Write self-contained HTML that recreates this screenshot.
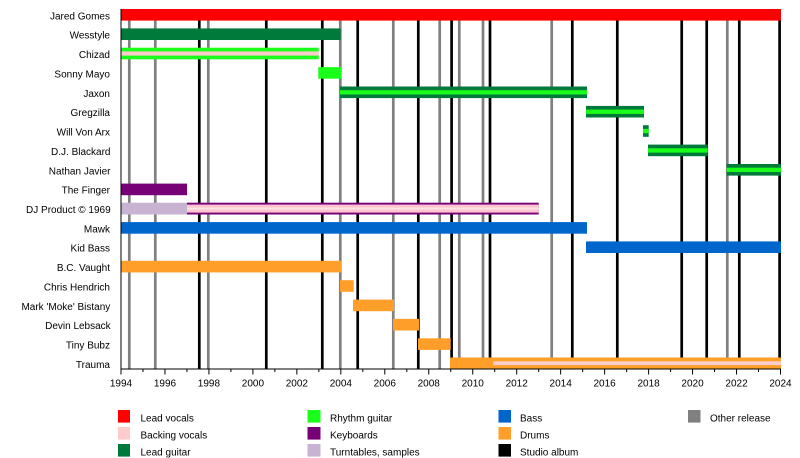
<!DOCTYPE html>
<html>
<head>
<meta charset="utf-8">
<style>
  html,body{margin:0;padding:0;background:#fff;}
  svg{display:block;}
  text{font-family:"Liberation Sans",Arial,sans-serif;font-size:10px;fill:#000;}
</style>
</head>
<body>
<svg width="800" height="458" viewBox="0 0 800 458" xmlns="http://www.w3.org/2000/svg">
  <rect x="0" y="0" width="800" height="458" fill="#fff"/>

  <!-- vertical release lines -->
  <g stroke-width="2.7">
    <g stroke="#808080">
      <line x1="129.3" y1="9" x2="129.3" y2="369"/>
      <line x1="155.3" y1="9" x2="155.3" y2="369"/>
      <line x1="208.3" y1="9" x2="208.3" y2="369"/>
      <line x1="340.3" y1="9" x2="340.3" y2="369"/>
      <line x1="393.3" y1="9" x2="393.3" y2="369"/>
      <line x1="439.7" y1="9" x2="439.7" y2="369"/>
      <line x1="459.3" y1="9" x2="459.3" y2="369"/>
      <line x1="483" y1="9" x2="483" y2="369"/>
      <line x1="551.7" y1="9" x2="551.7" y2="369"/>
      <line x1="727.3" y1="9" x2="727.3" y2="369"/>
    </g>
    <g stroke="#000">
      <line x1="199.3" y1="9" x2="199.3" y2="369"/>
      <line x1="266.3" y1="9" x2="266.3" y2="369"/>
      <line x1="322.3" y1="9" x2="322.3" y2="369"/>
      <line x1="357.7" y1="9" x2="357.7" y2="369"/>
      <line x1="418.3" y1="9" x2="418.3" y2="369"/>
      <line x1="451.6" y1="9" x2="451.6" y2="369"/>
      <line x1="490" y1="9" x2="490" y2="369"/>
      <line x1="572.3" y1="9" x2="572.3" y2="369"/>
      <line x1="617.3" y1="9" x2="617.3" y2="369"/>
      <line x1="681.7" y1="9" x2="681.7" y2="369"/>
      <line x1="706.7" y1="9" x2="706.7" y2="369"/>
      <line x1="739.3" y1="9" x2="739.3" y2="369"/>
      <line x1="779.6" y1="9" x2="779.6" y2="369"/>
    </g>
  </g>

  <!-- bars -->
  <!-- 0 Jared Gomes -->
  <rect x="121" y="9" width="660" height="11.6" fill="#ff0000"/>
  <!-- 1 Wesstyle -->
  <rect x="121" y="28.4" width="219.7" height="11.6" fill="#007a3a"/>
  <!-- 2 Chizad -->
  <rect x="121" y="47.7" width="197.7" height="11.6" fill="#1aff1a"/>
  <rect x="121" y="51.4" width="197.7" height="4.2" fill="#ffcccc"/>
  <!-- 3 Sonny Mayo -->
  <rect x="318.3" y="67.1" width="23" height="11.6" fill="#1aff1a"/>
  <!-- 4 Jaxon -->
  <rect x="340" y="86.5" width="247" height="11.6" fill="#007a3a"/>
  <rect x="340" y="90.2" width="247" height="4.3" fill="#1aff1a"/>
  <!-- 5 Gregzilla -->
  <rect x="586" y="105.9" width="58" height="11.6" fill="#007a3a"/>
  <rect x="586" y="109.6" width="58" height="4.3" fill="#1aff1a"/>
  <!-- 6 Will Von Arx -->
  <rect x="643" y="125.2" width="5.7" height="11.6" fill="#007a3a"/>
  <rect x="643" y="128.9" width="5.7" height="4.3" fill="#1aff1a"/>
  <!-- 7 D.J. Blackard -->
  <rect x="648" y="144.6" width="59.7" height="11.6" fill="#007a3a"/>
  <rect x="648" y="148.3" width="59.7" height="4.3" fill="#1aff1a"/>
  <!-- 8 Nathan Javier -->
  <rect x="726.7" y="164" width="54.3" height="11.6" fill="#007a3a"/>
  <rect x="726.7" y="167.7" width="54.3" height="4.3" fill="#1aff1a"/>
  <!-- 9 The Finger -->
  <rect x="121" y="183.6" width="66" height="11.6" fill="#770077"/>
  <!-- 10 DJ Product -->
  <rect x="121" y="202.7" width="66" height="11.8" fill="#c9b3d3"/>
  <rect x="187" y="202.7" width="351.7" height="11.8" fill="#770077"/>
  <rect x="187" y="204.6" width="351.7" height="8" fill="#ffc6d0"/>
  <rect x="187" y="207.6" width="351.7" height="2" fill="#ffe2e6"/>
  <!-- 11 Mawk -->
  <rect x="121" y="222.1" width="466" height="11.6" fill="#0066cc"/>
  <!-- 12 Kid Bass -->
  <rect x="586" y="241.4" width="195" height="11.6" fill="#0066cc"/>
  <!-- 13 B.C. Vaught -->
  <rect x="121" y="260.8" width="220.3" height="11.6" fill="#ff9f2a"/>
  <!-- 14 Chris Hendrich -->
  <rect x="340" y="280.2" width="13.7" height="11.6" fill="#ff9f2a"/>
  <!-- 15 Mark 'Moke' Bistany -->
  <rect x="353" y="299.6" width="41" height="11.6" fill="#ff9f2a"/>
  <!-- 16 Devin Lebsack -->
  <rect x="393" y="318.9" width="26" height="11.6" fill="#ff9f2a"/>
  <!-- 17 Tiny Bubz -->
  <rect x="418" y="338.3" width="32.7" height="11.6" fill="#ff9f2a"/>
  <!-- 18 Trauma -->
  <rect x="450" y="357.5" width="331" height="11" fill="#ff9f2a"/>
  <rect x="493.3" y="361.3" width="287.7" height="3.8" fill="#ffcccc"/>

  <!-- axes -->
  <line x1="121" y1="9" x2="121" y2="369.5" stroke="#000" stroke-width="1"/>
  <line x1="120.5" y1="369" x2="781" y2="369" stroke="#000" stroke-width="1"/>
  <g stroke="#000" stroke-width="1">
    <line x1="121" y1="369" x2="121" y2="374.5"/>
    <line x1="142.98" y1="369" x2="142.98" y2="372"/>
    <line x1="164.97" y1="369" x2="164.97" y2="374.5"/>
    <line x1="186.95" y1="369" x2="186.95" y2="372"/>
    <line x1="208.93" y1="369" x2="208.93" y2="374.5"/>
    <line x1="230.92" y1="369" x2="230.92" y2="372"/>
    <line x1="252.9" y1="369" x2="252.9" y2="374.5"/>
    <line x1="274.88" y1="369" x2="274.88" y2="372"/>
    <line x1="296.86" y1="369" x2="296.86" y2="374.5"/>
    <line x1="318.85" y1="369" x2="318.85" y2="372"/>
    <line x1="340.83" y1="369" x2="340.83" y2="374.5"/>
    <line x1="362.81" y1="369" x2="362.81" y2="372"/>
    <line x1="384.8" y1="369" x2="384.8" y2="374.5"/>
    <line x1="406.78" y1="369" x2="406.78" y2="372"/>
    <line x1="428.76" y1="369" x2="428.76" y2="374.5"/>
    <line x1="450.75" y1="369" x2="450.75" y2="372"/>
    <line x1="472.73" y1="369" x2="472.73" y2="374.5"/>
    <line x1="494.71" y1="369" x2="494.71" y2="372"/>
    <line x1="516.7" y1="369" x2="516.7" y2="374.5"/>
    <line x1="538.68" y1="369" x2="538.68" y2="372"/>
    <line x1="560.66" y1="369" x2="560.66" y2="374.5"/>
    <line x1="582.65" y1="369" x2="582.65" y2="372"/>
    <line x1="604.63" y1="369" x2="604.63" y2="374.5"/>
    <line x1="626.61" y1="369" x2="626.61" y2="372"/>
    <line x1="648.6" y1="369" x2="648.6" y2="374.5"/>
    <line x1="670.58" y1="369" x2="670.58" y2="372"/>
    <line x1="692.56" y1="369" x2="692.56" y2="374.5"/>
    <line x1="714.55" y1="369" x2="714.55" y2="372"/>
    <line x1="736.53" y1="369" x2="736.53" y2="374.5"/>
    <line x1="758.51" y1="369" x2="758.51" y2="372"/>
    <line x1="780.5" y1="369" x2="780.5" y2="374.5"/>
  </g>
  <g text-anchor="middle">
    <text x="121" y="386.5">1994</text>
    <text x="164.97" y="386.5">1996</text>
    <text x="208.93" y="386.5">1998</text>
    <text x="252.9" y="386.5">2000</text>
    <text x="296.86" y="386.5">2002</text>
    <text x="340.83" y="386.5">2004</text>
    <text x="384.8" y="386.5">2006</text>
    <text x="428.76" y="386.5">2008</text>
    <text x="472.73" y="386.5">2010</text>
    <text x="516.7" y="386.5">2012</text>
    <text x="560.66" y="386.5">2014</text>
    <text x="604.63" y="386.5">2016</text>
    <text x="648.6" y="386.5">2018</text>
    <text x="692.56" y="386.5">2020</text>
    <text x="736.53" y="386.5">2022</text>
    <text x="780.5" y="386.5">2024</text>
  </g>

  <!-- row labels -->
  <g text-anchor="end">
    <text x="110" y="19.3">Jared Gomes</text>
    <text x="110" y="38.7">Wesstyle</text>
    <text x="110" y="58">Chizad</text>
    <text x="110" y="77.4">Sonny Mayo</text>
    <text x="110" y="96.8">Jaxon</text>
    <text x="110" y="116.2">Gregzilla</text>
    <text x="110" y="135.5">Will Von Arx</text>
    <text x="110.5" y="154.9">D.J. Blackard</text>
    <text x="110.5" y="174.3">Nathan Javier</text>
    <text x="110" y="193.6">The Finger</text>
    <text x="110.7" y="213">DJ Product © 1969</text>
    <text x="110" y="232.4">Mawk</text>
    <text x="110" y="251.7">Kid Bass</text>
    <text x="110" y="271.1">B.C. Vaught</text>
    <text x="110" y="290.5">Chris Hendrich</text>
    <text x="110.3" y="309.9">Mark 'Moke' Bistany</text>
    <text x="110.7" y="329.2">Devin Lebsack</text>
    <text x="110" y="348.6">Tiny Bubz</text>
    <text x="110" y="368">Trauma</text>
  </g>

  <!-- legend -->
  <rect x="118" y="410" width="12" height="12.6" fill="#ff0000"/>
  <rect x="118" y="427" width="12" height="12.6" fill="#ffcccc"/>
  <rect x="118" y="444" width="12" height="12.6" fill="#007a3a"/>
  <text x="140.5" y="421.3">Lead vocals</text>
  <text x="140.5" y="438.3">Backing vocals</text>
  <text x="140.5" y="455.3">Lead guitar</text>

  <rect x="307.5" y="410" width="13" height="12.6" fill="#1aff1a"/>
  <rect x="307.5" y="427" width="13" height="12.6" fill="#770077"/>
  <rect x="307.5" y="444" width="13" height="12.6" fill="#c9b3d3"/>
  <text x="330" y="421.3">Rhythm guitar</text>
  <text x="330" y="438.3">Keyboards</text>
  <text x="330" y="455.3">Turntables, samples</text>

  <rect x="498.5" y="410" width="12.5" height="12.6" fill="#0066cc"/>
  <rect x="498.5" y="427" width="12.5" height="12.6" fill="#ff9f2a"/>
  <rect x="498.5" y="444" width="12.5" height="12.6" fill="#000000"/>
  <text x="520" y="421.3">Bass</text>
  <text x="520" y="438.3">Drums</text>
  <text x="520" y="455.3">Studio album</text>

  <rect x="688" y="410" width="12.5" height="12.6" fill="#808080"/>
  <text x="710" y="421.3">Other release</text>
</svg>
</body>
</html>
